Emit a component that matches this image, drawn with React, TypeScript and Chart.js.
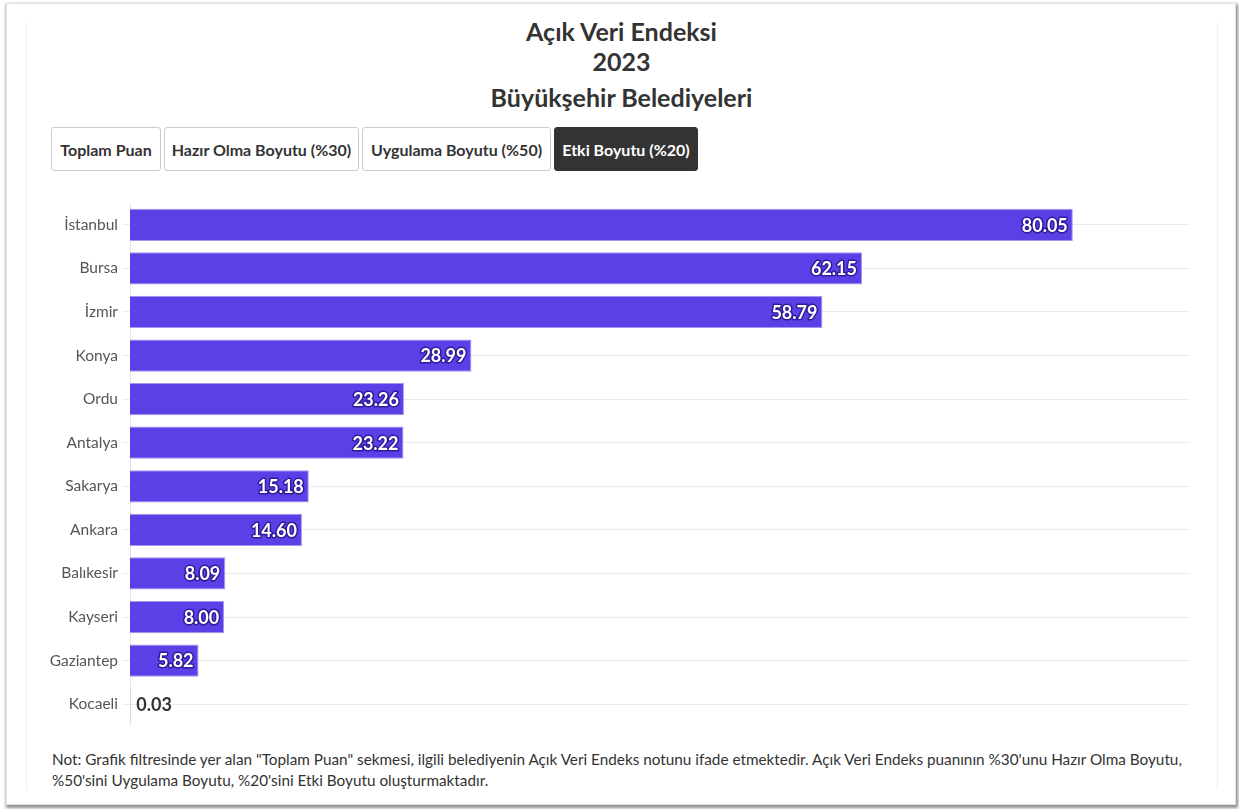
import React, { useEffect, useRef } from "react";
import { Chart, registerables } from "chart.js";

Chart.register(...registerables);

const titleLines = ["Açık Veri Endeksi", "2023", "Büyükşehir Belediyeleri"];
const tabs = ["Toplam Puan", "Hazır Olma Boyutu (%30)", "Uygulama Boyutu (%50)", "Etki Boyutu (%20)"];
const activeTab = 3;
const categories = ["İstanbul", "Bursa", "İzmir", "Konya", "Ordu", "Antalya", "Sakarya", "Ankara", "Balıkesir", "Kayseri", "Gaziantep", "Kocaeli"];
const values = [80.05, 62.15, 58.79, 28.99, 23.26, 23.22, 15.18, 14.6, 8.09, 8.0, 5.82, 0.03];
const xMax = 90;
const noteLines = [
  "Not: Grafik filtresinde yer alan \"Toplam Puan\" sekmesi, ilgili belediyenin Açık Veri Endeks notunu ifade etmektedir. Açık Veri Endeks puanının %30'unu Hazır Olma Boyutu,",
  "%50'sini Uygulama Boyutu, %20'sini Etki Boyutu oluşturmaktadır.",
];

const FONT = "Lato, 'Noto Sans', sans-serif";

const valueLabels = {
  id: "valueLabels",
  afterDatasetsDraw(chart: any) {
    const ctx = chart.ctx;
    const meta = chart.getDatasetMeta(0);
    ctx.save();
    ctx.font = `bold 18px ${FONT}`;
    ctx.textBaseline = "middle";
    meta.data.forEach((bar: any, i: number) => {
      const txt = values[i].toFixed(2);
      const w = ctx.measureText(txt).width;
      const barW = bar.x - bar.base;
      if (barW > w + 12) {
        ctx.textAlign = "right";
        ctx.lineJoin = "round";
        ctx.lineWidth = 3;
        ctx.strokeStyle = "rgba(40,20,140,0.85)";
        ctx.strokeText(txt, bar.x - 5, bar.y + 1);
        ctx.fillStyle = "#ffffff";
        ctx.fillText(txt, bar.x - 5, bar.y + 1);
      } else {
        ctx.textAlign = "left";
        ctx.fillStyle = "#333333";
        ctx.fillText(txt, bar.x + 6, bar.y + 1);
      }
    });
    ctx.restore();
  },
};

function BarChart() {
  const ref = useRef<HTMLCanvasElement | null>(null);
  useEffect(() => {
    if (!ref.current) return;
    const chart = new Chart(ref.current, {
      type: "bar",
      data: {
        labels: categories,
        datasets: [
          {
            data: values,
            backgroundColor: "#5b40e8",
            borderColor: "#a596f2",
            borderWidth: 1,
            borderSkipped: "start",
            barPercentage: 0.74,
            categoryPercentage: 1,
          },
        ],
      },
      options: {
        indexAxis: "y",
        animation: false,
        responsive: false,
        maintainAspectRatio: false,
        layout: { padding: 0 },
        plugins: {
          legend: { display: false },
          tooltip: { enabled: false },
          title: { display: false },
        },
        scales: {
          x: {
            display: false,
            min: 0,
            max: xMax,
          },
          y: {
            afterFit: (scale: any) => {
              scale.width = 90;
              scale.paddingTop = 0;
              scale.paddingBottom = 0;
            },
            grid: {
              offset: false,
              color: "#ebebeb",
              lineWidth: 1,
              tickLength: 8,
              drawTicks: true,
            },
            border: { color: "#e3e3ef", width: 1 },
            ticks: {
              color: "#555555",
              padding: 4,
              font: { family: FONT, size: 15.5 },
            },
          },
        },
      },
      plugins: [valueLabels],
    });
    return () => chart.destroy();
  }, []);
  return (
    <canvas
      ref={ref}
      width={1150}
      height={523}
      style={{ position: "absolute", left: 40, top: 203, width: 1150, height: 523 }}
    />
  );
}

export default function App() {
  const tabLefts = [51, 164, 362, 554];
  const tabWidths = [110, 195, 189, 144];
  return (
    <div style={{ position: "absolute", left: 0, top: 0, width: 1239, height: 809, background: "#fff", fontFamily: FONT, overflow: "hidden" }}>
      <div
        style={{
          position: "absolute",
          left: 6,
          top: 3,
          width: 1228,
          height: 800,
          border: "1px solid #e2e2e2",
          boxShadow: "1px 2px 3px 1px rgba(0,0,0,0.45)",
          background: "#fff",
        }}
      />
      <div
        style={{
          position: "absolute",
          left: 26,
          top: 22,
          width: 1190,
          height: 767,
          borderLeft: "1px solid #efefef",
          borderRight: "1px solid #efefef",
        }}
      />
      {titleLines.map((t, i) => (
        <div
          key={t}
          style={{
            position: "absolute",
            left: 0,
            width: 1243,
            top: [17, 47, 83][i],
            textAlign: "center",
            fontSize: 25,
            fontWeight: 700,
            color: "#333333",
            lineHeight: "28px",
          }}
        >
          {t}
        </div>
      ))}
      {tabs.map((t, i) => (
        <div
          key={t}
          style={{
            position: "absolute",
            left: tabLefts[i],
            top: 127,
            width: tabWidths[i],
            height: 44,
            boxSizing: "border-box",
            border: i === activeTab ? "1px solid #333" : "1px solid #cccccc",
            borderRadius: 3,
            background: i === activeTab ? "#333333" : "#ffffff",
            color: i === activeTab ? "#ffffff" : "#333333",
            fontSize: 16,
            fontWeight: 700,
            display: "flex",
            alignItems: "center",
            justifyContent: "center",
            whiteSpace: "nowrap",
          }}
        >
          {t}
        </div>
      ))}
      <BarChart />
      <div
        style={{
          position: "absolute",
          left: 52,
          top: 749,
          fontSize: 15.3,
          color: "#333333",
          lineHeight: "21px",
          whiteSpace: "nowrap",
        }}
      >
        {noteLines.map((l, i) => (
          <div key={i}>{l}</div>
        ))}
      </div>
    </div>
  );
}
